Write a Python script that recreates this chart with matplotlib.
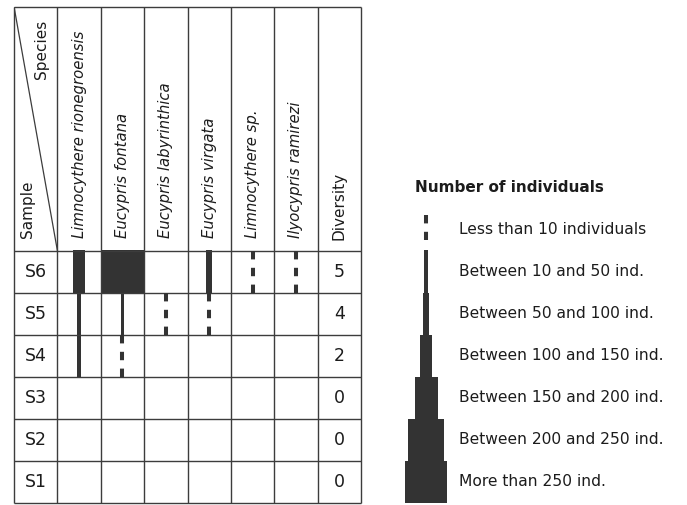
import matplotlib.pyplot as plt

plt.rcParams['font.family'] = 'DejaVu Sans'
plt.rcParams['lines.scale_dashes'] = False

samples = ['S6', 'S5', 'S4', 'S3', 'S2', 'S1']
species = ['Limnocythere rionegroensis', 'Eucypris fontana', 'Eucypris labyrinthica',
           'Eucypris virgata', 'Limnocythere sp.', 'Ilyocypris ramirezi']
# abundance class per sample (rows) and species (columns)
# 0 absent, 1 <10, 2 10-50, 3 50-100, 4 100-150, 5 150-200, 6 200-250, 7 >250
abundance = [
    [4, 7, 0, 3, 1, 1],
    [2, 2, 1, 1, 0, 0],
    [2, 1, 0, 0, 0, 0],
    [0, 0, 0, 0, 0, 0],
    [0, 0, 0, 0, 0, 0],
    [0, 0, 0, 0, 0, 0],
]
diversity = [5, 4, 2, 0, 0, 0]
classes = ['Less than 10 individuals', 'Between 10 and 50 ind.', 'Between 50 and 100 ind.',
           'Between 100 and 150 ind.', 'Between 150 and 200 ind.',
           'Between 200 and 250 ind.', 'More than 250 ind.']

# bar width of each class as a share of one column (class 1 is the dashed line)
class_width = [0, 0.09, 0.08, 0.15, 0.27, 0.53, 0.81, 0.98]
dash = (6.05, 6.05)

ink = '#333333'
grid = '#3c3c3c'
txt = '#1c1c1c'

W, H = 687, 505
fig = plt.figure(figsize=(W / 100, H / 100), dpi=100)

# table frame in pixels
left, right, top, bottom, head_line = 14, 361, 6.5, 503, 250.5
colw = (right - left) / 8
rowh = (bottom - head_line) / 6
ymax = 6 + (head_line - top) / rowh

ax = fig.add_axes([left / W, (H - bottom) / H, (right - left) / W, (bottom - top) / H])
ncol = len(species) + 2
nrow = len(samples)
ax.set_xlim(0, ncol)
ax.set_ylim(0, ymax)
ax.axis('off')

# grid
ax.vlines(range(ncol + 1), 0, ymax, color=grid, lw=1.0, clip_on=False)
ax.hlines(list(range(nrow + 1)) + [ymax], 0, ncol, color=grid, lw=1.0, clip_on=False)
ax.plot([0, 1], [ymax, nrow], color=grid, lw=0.9)

# header
ax.text(0.3, 6.3, 'Sample', rotation=90, ha='center', va='bottom', fontsize=11, color=txt)
ax.text(0.645, 11.48, 'Species', rotation=90, ha='center', va='top', fontsize=11, color=txt)
for j, name in enumerate(species):
    ax.text(j + 1.5, 6.3, name, rotation=90, ha='center', va='bottom',
            fontsize=10.7, style='italic', color=txt)
ax.text(ncol - 0.5, 6.25, 'Diversity', rotation=90, ha='center', va='bottom',
        fontsize=11, color=txt)

# body
for i, s in enumerate(samples):
    y0 = nrow - 1 - i
    ax.text(0.5, y0 + 0.5, s, ha='center', va='center', fontsize=12.5, color=txt)
    ax.text(ncol - 0.5, y0 + 0.5, str(diversity[i]), ha='center', va='center',
            fontsize=12.5, color=txt)
    for j, c in enumerate(abundance[i]):
        x = j + 1.5
        if c == 1:
            ax.plot([x, x], [y0 + 1, y0], color=ink, lw=2.9, dashes=dash)
        elif c > 1:
            ax.bar(x, 1, width=class_width[c], bottom=y0, color=ink, linewidth=0)

# legend
lg = fig.add_axes([right / W, (H - bottom) / H, (W - right) / W, (bottom - top) / H])
lg.set_xlim(0, (W - right) / colw)
lg.set_ylim(0, ymax)
lg.axis('off')
sym_x, text_x = 1.5, 2.26
for k, label in enumerate(classes, start=1):
    r = len(classes) - k
    if k == 1:
        lg.plot([sym_x, sym_x], [r + 0.85, r + 0.25], color=ink, lw=2.9, dashes=dash)
    else:
        lg.bar(sym_x, 1, width=class_width[k], bottom=r, color=ink, linewidth=0)
    lg.text(text_x, r + 0.5, label, ha='left', va='center', fontsize=11.2, color=txt)
lg.text(1.24, 7.5, 'Number of individuals', ha='left', va='center', fontsize=11,
        fontweight='bold', color=txt)

fig.savefig('out.png', dpi=100)
